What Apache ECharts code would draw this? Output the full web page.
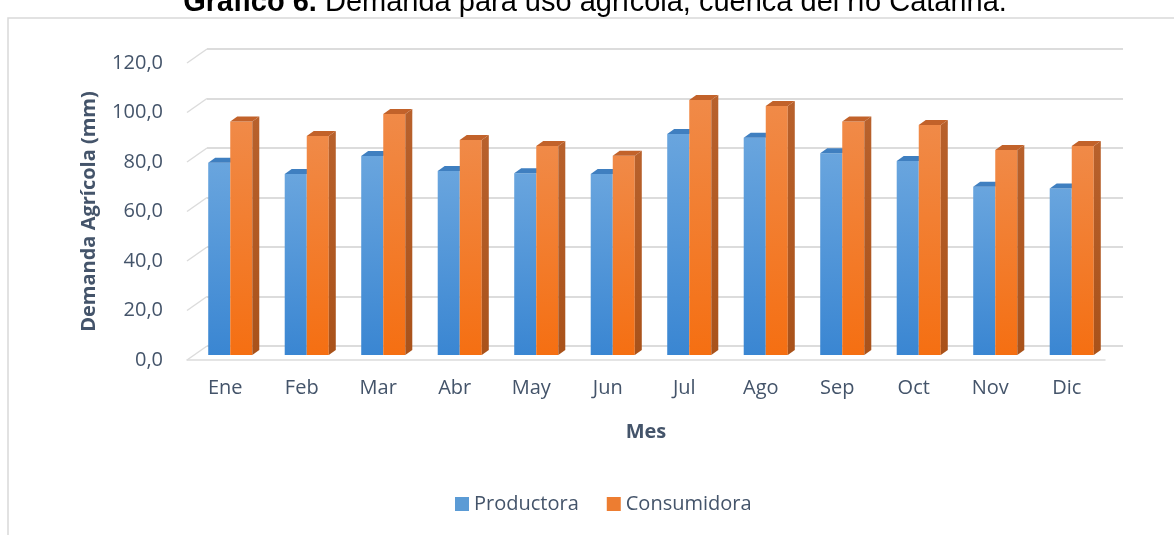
<!DOCTYPE html>
<html>
<head>
<meta charset="utf-8">
<script src="https://cdn.jsdelivr.net/npm/echarts@6/dist/echarts.min.js"></script>
<style>html,body{margin:0;padding:0;background:#fff}#main{width:1174px;height:535px}</style>
</head>
<body>
<div id="main"></div>
<script>
// datos
var meses = ['Ene','Feb','Mar','Abr','May','Jun','Jul','Ago','Sep','Oct','Nov','Dic'];
var productora = [77.7, 73.1, 80.4, 74.3, 73.4, 73.1, 89.3, 87.8, 81.5, 78.4, 68.0, 67.3];
var consumidora = [94.3, 88.5, 97.4, 86.9, 84.4, 80.5, 103.0, 100.6, 94.3, 92.9, 82.8, 84.4];
var yTicks = [0, 20, 40, 60, 80, 100, 120];

var textColor = '#44546a';
var gridColor = '#dcdcdc';
var fuente = '"Open Sans", sans-serif';

function grad(c1, c2){
    return {type:'linear', x:0, y:0, x2:0, y2:1, colorStops:[{offset:0, color:c1},{offset:1, color:c2}]};
}

//barra 3D: lado 0 = izquierda (azul), 1 = derecha (naranja)
function barra(lado, frente, tope, costado){
    return function(params, api){
        var i = api.value(0);
        var top = api.coord([i, api.value(1)]);
        var base = api.coord([i, 0]);
        var w = api.size([1, 0])[0] * 0.288;
        var x0 = top[0] + 5 + (lado === 0 ? -w : 0);
        var x1 = x0 + w;
        var yt = top[1] - 5, yb = base[1] - 5;
        var dx = 7, dy = 5;
        var hijos = [
            {type:'polygon', shape:{points:[[x0,yt],[x1,yt],[x1,yb],[x0,yb]]}, style:{fill:frente}},
            {type:'polygon', shape:{points:[[x0,yt],[x1,yt],[x1+dx,yt-dy],[x0+dx,yt-dy]]}, style:{fill:tope}}
        ];
        if(lado === 1){
            hijos.push({type:'polygon', shape:{points:[[x1,yt],[x1+dx,yt-dy],[x1+dx,yb-dy],[x1,yb]]}, style:{fill:costado}});
        }
        return {type:'group', children:hijos};
    };
}

//lineas inclinadas de la pared izquierda y del piso
function pared(params, api){
    var v = api.value(0);
    var p = api.coord([0, v]);
    var x = p[0] - api.size([1, 0])[0] / 2;
    return {type:'line', shape:{x1:x, y1:p[1], x2:x + 20, y2:p[1] - 14}, style:{stroke:gridColor, lineWidth:1.5}};
}

var chart = echarts.init(document.getElementById('main'));
var option = {
    animation: false,
    backgroundColor: '#fff',
    graphic: [
        {type:'rect', shape:{x:8, y:18, width:1200, height:600}, style:{fill:'none', stroke:'#d9d9d9', lineWidth:1.5}, silent:true},
        {type:'text', x:595, y:17, style:{
            text:'{b|Gráfico 6.} Demanda para uso agrícola, cuenca del río Catarina.',
            align:'center', verticalAlign:'bottom', font:'29px "Liberation Sans", Arial', fill:'#000',
            rich:{b:{font:'bold 29px "Liberation Sans", Arial', fill:'#000'}}
        }}
    ],
    legend: {
        data: ['Productora', 'Consumidora'],
        left: 450, top: 489,
        itemWidth: 14, itemHeight: 14, itemGap: 28,
        icon: 'rect',
        textStyle: {color:textColor, fontSize:20, fontFamily:fuente}
    },
    grid: [
        {left:187, right:69, top:63, bottom:175},
        {left:207, right:51, top:49, bottom:189}
    ],
    xAxis: [
        {
            type:'category', gridIndex:0, data:meses,
            axisTick:{show:false},
            axisLine:{show:true, lineStyle:{color:gridColor, width:1.5}},
            axisLabel:{color:textColor, fontSize:20, fontFamily:fuente, margin:18},
            name:'Mes', nameLocation:'middle', nameGap:62,
            nameTextStyle:{color:textColor, fontSize:20, fontWeight:'bold', fontFamily:fuente}
        },
        {type:'category', gridIndex:1, data:meses, show:false}
    ],
    yAxis: [
        {
            type:'value', gridIndex:0, min:yTicks[0], max:yTicks[yTicks.length-1], interval:20,
            splitLine:{show:false}, axisLine:{show:false}, axisTick:{show:false},
            axisLabel:{color:textColor, fontSize:20, fontFamily:fuente, margin:24,
                formatter:function(v){ return v.toFixed(1).replace('.', ','); }},
            name:'Demanda Agrícola (mm)', nameLocation:'middle', nameGap:88, nameRotate:90,
            nameTextStyle:{color:textColor, fontSize:20, fontWeight:'bold', fontFamily:fuente}
        },
        {
            type:'value', gridIndex:1, min:yTicks[0], max:yTicks[yTicks.length-1], interval:20,
            axisLine:{show:false}, axisTick:{show:false}, axisLabel:{show:false},
            splitLine:{show:true, lineStyle:{color:gridColor, width:2}}
        }
    ],
    series: [
        {
            type:'custom', name:'pared', silent:true, xAxisIndex:0, yAxisIndex:0,
            data: yTicks.map(function(v){ return [v]; }),
            renderItem: pared
        },
        {
            type:'custom', name:'Productora', xAxisIndex:0, yAxisIndex:0,
            itemStyle:{color:'#5b9bd5'},
            data: productora.map(function(v, i){ return [i, v]; }),
            renderItem: barra(0, grad('#69a5de', '#3a86d2'), '#3f7fc0', '#2f6aa8')
        },
        {
            type:'custom', name:'Consumidora', xAxisIndex:0, yAxisIndex:0,
            itemStyle:{color:'#ed7d31'},
            data: consumidora.map(function(v, i){ return [i, v]; }),
            renderItem: barra(1, grad('#f08a48', '#f56f12'), '#c2622a', grad('#b8612c', '#a9521a'))
        }
    ]
};
chart.setOption(option);
</script>
</body>
</html>
